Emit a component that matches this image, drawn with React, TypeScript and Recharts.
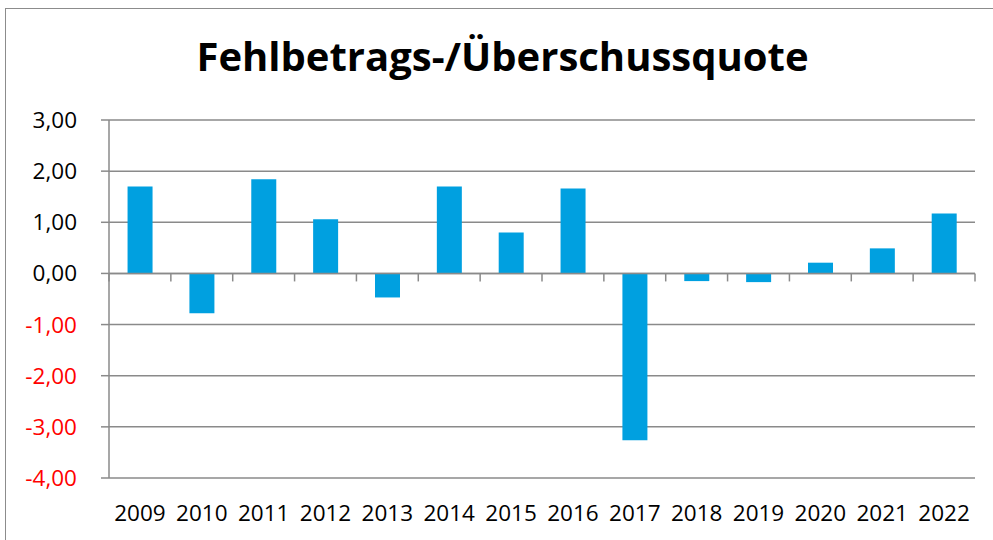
import React from "react";
import { BarChart, Bar, XAxis, YAxis, CartesianGrid, ReferenceLine } from "recharts";

const years = ["2009", "2010", "2011", "2012", "2013", "2014", "2015", "2016", "2017", "2018", "2019", "2020", "2021", "2022"];
const quote = [1.7, -0.78, 1.84, 1.06, -0.47, 1.7, 0.8, 1.66, -3.26, -0.15, -0.17, 0.21, 0.49, 1.17];
const yTicks = [-4, -3, -2, -1, 0, 1, 2, 3];
const title = "Fehlbetrags-/Überschussquote";

const data = years.map((y, i) => ({ year: y, value: quote[i] }));

const GRID = "#8a8a8a";
const FONT = "'Open Sans', 'Noto Sans', sans-serif";

const fmt = (v: number) => v.toFixed(2).replace(".", ",");

const YTick = (props: any) => {
  const { x, y, payload } = props;
  const v = payload.value as number;
  return (
    <text x={x} y={y} dy="0.355em" textAnchor="end" fontFamily={FONT} fontSize={22.5} fill={v < 0 ? "#ff0000" : "#000000"}>
      {fmt(v)}
    </text>
  );
};

const ZeroAxis = (props: any) => {
  const { x1, y1, x2, y2 } = props;
  const n = years.length;
  const step = (x2 - x1) / n;
  const marks = [];
  for (let k = 0; k <= n; k++) {
    const x = x1 + k * step;
    marks.push(<line key={k} x1={x} y1={y1} x2={x} y2={y1 + 8} stroke={GRID} strokeWidth={1.5} />);
  }
  return (
    <g>
      <line x1={x1} y1={y1} x2={x2} y2={y2} stroke={GRID} strokeWidth={1.5} />
      {marks}
    </g>
  );
};

export default function App() {
  return (
    <div style={{ position: "absolute", left: 0, top: 0, width: 993, height: 540, overflow: "hidden", background: "#fff" }}>
      <div
        style={{
          position: "absolute",
          left: 5,
          top: 8,
          width: 1200,
          height: 700,
          borderLeft: "1.5px solid #8c8c8c",
          borderTop: "1.5px solid #8c8c8c",
        }}
      />
      <div
        style={{
          position: "absolute",
          left: 0,
          top: 36,
          width: 1005,
          textAlign: "center",
          fontFamily: FONT,
          fontWeight: 700,
          fontSize: 40,
          lineHeight: "40px",
          color: "#000",
          whiteSpace: "nowrap",
        }}
      >
        {title}
      </div>
      <div style={{ position: "absolute", left: 0, top: 0 }}>
        <BarChart width={993} height={540} data={data} margin={{ top: 120, right: 18, bottom: 0, left: 0 }} barCategoryGap="30%">
          <CartesianGrid vertical={false} stroke={GRID} strokeWidth={1.5} />
          <XAxis
            dataKey="year"
            height={62}
            axisLine={false}
            tickLine={false}
            tickSize={0}
            tickMargin={27}
            interval={0}
            tick={{ fontFamily: FONT, fontSize: 22.5, fill: "#000" }}
          />
          <YAxis
            width={109}
            domain={[-4, 3]}
            ticks={yTicks}
            interval={0}
            allowDataOverflow
            axisLine={{ stroke: GRID, strokeWidth: 1.5 }}
            tickLine={{ stroke: GRID, strokeWidth: 1.5 }}
            tickSize={8}
            tickMargin={24}
            tick={<YTick />}
          />
          <Bar dataKey="value" fill="#00a0e0" isAnimationActive={false} />
          <ReferenceLine y={0} shape={<ZeroAxis />} />
        </BarChart>
      </div>
    </div>
  );
}
